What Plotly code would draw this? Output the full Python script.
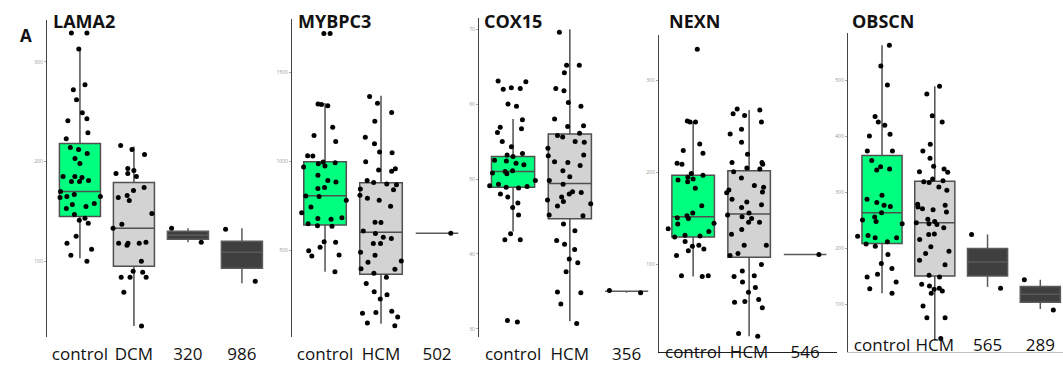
import plotly.graph_objects as go

W, H = 1063, 370

# ---------------- DATA ----------------
# LAMA2
lama2_groups = ["control", "DCM", "320", "986"]
lama2_q1 = [145, 95, 122, 93]
lama2_med = [170, 133, 126, 109]
lama2_q3 = [218, 179, 130, 120]
lama2_lo = [103, 35, 119, 78]
lama2_hi = [311, 215, 133, 133]
lama2_pts_control = [329, 329, 313, 277, 272, 262, 249, 241, 243, 229, 223, 214, 212, 208, 203, 198,
                     185, 185, 184, 181, 180, 180, 170, 167, 165, 165, 164, 158, 157, 155, 153, 147,
                     143, 141, 138, 125, 118, 112, 106, 100]
lama2_pts_dcm = [216, 212, 207, 193, 188, 191, 188, 185, 174, 171, 166, 164, 161, 148, 137, 133,
                 119, 118, 116, 118, 118, 100, 90, 89, 84, 84, 84, 69, 35]
lama2_pts_320 = [119, 133]
lama2_pts_986 = [132, 80]

# MYBPC3
mybpc3_groups = ["control", "HCM", "502"]
mybpc3_q1 = [644, 367, 598]
mybpc3_med = [809, 603, 598]
mybpc3_q3 = [1000, 882, 598]
mybpc3_lo = [382, 90, 598]
mybpc3_hi = [1330, 1371, 598]
mybpc3_pts_control = [1720, 1720, 1325, 1314, 1321, 1194, 1147, 1114, 1034, 1032, 998, 994, 989, 976,
                      970, 924, 894, 886, 855, 849, 808, 804, 784, 746, 713, 685, 681, 677, 651, 640,
                      638, 550, 547, 520, 500, 476, 470, 382]
mybpc3_pts_hcm = [1366, 1329, 1276, 1228, 1138, 1101, 1054, 1050, 1000, 961, 954, 946, 894, 883, 875,
                  870, 847, 842, 812, 795, 784, 750, 660, 659, 610, 597, 575, 569, 541, 541, 491, 474,
                  442, 435, 399, 396, 373, 351, 315, 269, 252, 228, 159, 153, 149, 127, 93, 78]
mybpc3_pts_502 = [598]

# COX15
cox15_groups = ["control", "HCM", "356"]
cox15_q1 = [48.9, 44.7, 35.0]
cox15_med = [51.0, 49.4, 35.0]
cox15_q3 = [53.0, 56.0, 35.0]
cox15_lo = [43.0, 31.0, 34.8]
cox15_hi = [58.0, 70.0, 35.1]
cox15_pts_control = [63.0, 62.0, 62.2, 62.1, 63.1, 60.0, 59.7, 57.9, 56.9, 56.7, 56.2, 55.0, 54.3,
                     53.4, 53.2, 53.0, 52.5, 52.4, 52.1, 51.9, 51.1, 51.0, 50.8, 50.7, 49.8, 49.3,
                     49.1, 48.9, 49.0, 48.8, 48.0, 47.6, 46.8, 46.2, 45.2, 42.7, 41.9, 41.9, 31.1, 30.9]
cox15_pts_hcm = [69.6, 65.2, 65.2, 64.2, 62.1, 61.8, 60.2, 59.7, 58.0, 57.0, 57.1, 56.1, 55.8, 55.6,
                 55.0, 54.9, 54.1, 53.2, 53.1, 52.3, 52.2, 51.8, 51.1, 50.3, 49.8, 49.3, 48.3, 48.2,
                 48.0, 47.6, 47.2, 47.0, 46.7, 46.4, 45.2, 45.1, 44.0, 43.1, 41.8, 41.3, 40.6, 39.3,
                 38.8, 37.6, 34.9, 34.8, 33.3, 30.7]
cox15_pts_356 = [34.8, 35.1]

# NEXN
nexn_groups = ["control", "HCM", "546"]
nexn_q1 = [130, 108, 111]
nexn_med = [152, 155, 111]
nexn_q3 = [197, 202, 111]
nexn_lo = [87, 22, 111]
nexn_hi = [255, 268, 111]
nexn_pts_control = [334, 256, 255, 255, 231, 224, 221, 209, 210, 199, 197, 195, 193, 192, 190, 183,
                    164, 156, 153, 151, 150, 145, 144, 139, 136, 132, 131, 130, 125, 120, 121, 117,
                    115, 110, 88, 88, 87]
nexn_pts_hcm = [268, 269, 264, 262, 255, 247, 242, 233, 220, 211, 211, 209, 205, 201, 204, 194, 186,
                184, 181, 179, 178, 171, 168, 165, 162, 156, 154, 152, 150, 146, 146, 138, 133, 121,
                121, 112, 110, 100, 93, 88, 87, 81, 75, 70, 62, 60, 59, 53, 25, 22]
nexn_pts_546 = [111]

# OBSCN
obscn_groups = ["control", "HCM", "565", "289"]
obscn_q1 = [209, 151, 151, 104]
obscn_med = [264, 246, 176, 118]
obscn_q3 = [366, 320, 200, 132]
obscn_lo = [120, 35, 131, 92]
obscn_hi = [563, 490, 225, 144]
obscn_pts_control = [563, 526, 492, 436, 426, 420, 404, 401, 374, 374, 357, 346, 342, 340, 295, 288,
                     282, 277, 275, 264, 256, 251, 248, 244, 223, 222, 219, 219, 212, 208, 204, 189,
                     173, 164, 154, 149, 140, 128, 120]
obscn_pts_hcm = [490, 476, 437, 426, 386, 374, 361, 347, 342, 337, 336, 324, 321, 319, 318, 310, 304,
                 279, 277, 274, 271, 269, 265, 252, 248, 246, 244, 243, 237, 226, 225, 216, 203, 195,
                 191, 179, 171, 152, 149, 136, 133, 129, 127, 124, 120, 97, 76, 76, 39]
obscn_pts_565 = [225, 129]
obscn_pts_289 = [90, 144]

titles = ["LAMA2", "MYBPC3", "COX15", "NEXN", "OBSCN"]

# ---------------- LAYOUT (pixels) ----------------
FILLS = ["#00FF7F", "#D3D3D3", "#3F3F3F", "#3F3F3F"]
panels = [
    dict(groups=lama2_groups, q1=lama2_q1, med=lama2_med, q3=lama2_q3, lo=lama2_lo, hi=lama2_hi,
         pts=[lama2_pts_control, lama2_pts_dcm, lama2_pts_320, lama2_pts_986],
         xpx=(47, 270), ypx=(20, 337), xr=(-0.61, 3.52), yr=(24, 342), tv=[100, 200, 300],
         standoff=5, title_px=(51, 21.5)),
    dict(groups=mybpc3_groups, q1=mybpc3_q1, med=mybpc3_med, q3=mybpc3_q3, lo=mybpc3_lo, hi=mybpc3_hi,
         pts=[mybpc3_pts_control, mybpc3_pts_hcm, mybpc3_pts_502],
         xpx=(292, 465), ypx=(19, 337), xr=(-0.59, 2.5), yr=(15, 1802), tv=[500, 1000, 1500],
         standoff=5, title_px=(296, 21.5)),
    dict(groups=cox15_groups, q1=cox15_q1, med=cox15_med, q3=cox15_q3, lo=cox15_lo, hi=cox15_hi,
         pts=[cox15_pts_control, cox15_pts_hcm, cox15_pts_356],
         xpx=(479, 655), ypx=(18, 337), xr=(-0.6, 2.5), yr=(28.9, 71.5), tv=[30, 40, 50, 60, 70],
         standoff=5, title_px=(482, 21.5)),
    dict(groups=nexn_groups, q1=nexn_q1, med=nexn_med, q3=nexn_q3, lo=nexn_lo, hi=nexn_hi,
         pts=[nexn_pts_control, nexn_pts_hcm, nexn_pts_546],
         xpx=(659, 837), ypx=(35, 352), xr=(-0.61, 2.57), yr=(5, 349.5), tv=[100, 200, 300],
         standoff=-15, title_px=(667, 21.5), xline="#222"),
    dict(groups=obscn_groups, q1=obscn_q1, med=obscn_med, q3=obscn_q3, lo=obscn_lo, hi=obscn_hi,
         pts=[obscn_pts_control, obscn_pts_hcm, obscn_pts_565, obscn_pts_289],
         xpx=(848, 1063), ypx=(33, 352), xr=(-0.645, 3.43), yr=(15, 585), tv=[100, 200, 300, 400, 500],
         standoff=-22, title_px=(850, 21.5), xline="#C0C0C0"),
]

fig = go.Figure()
layout = dict(width=W, height=H, margin=dict(l=0, r=0, t=0, b=0),
              paper_bgcolor="white", plot_bgcolor="white", showlegend=False,
              template="none", annotations=[])

for i, p in enumerate(panels, start=1):
    xa = "x" if i == 1 else f"x{i}"
    ya = "y" if i == 1 else f"y{i}"
    # boxes
    for j, g in enumerate(p["groups"]):
        fig.add_trace(go.Box(
            x=[g], q1=[p["q1"][j]], median=[p["med"][j]], q3=[p["q3"][j]],
            lowerfence=[p["lo"][j]], upperfence=[p["hi"][j]],
            fillcolor=FILLS[j], line=dict(color="#505050" if j < 2 else "#5a5a5a", width=1.5),
            whiskerwidth=0, width=0.76, boxpoints=False, xaxis=xa, yaxis=ya, hoverinfo="skip"))
    # jittered points
    for j, g in enumerate(p["groups"]):
        vals = p["pts"][j]
        fig.add_trace(go.Box(
            x=[g] * len(vals), y=vals, boxpoints="all", jitter=1, pointpos=0,
            fillcolor="rgba(0,0,0,0)", line=dict(color="rgba(0,0,0,0)", width=0),
            whiskerwidth=0, marker=dict(color="black", size=5), width=0.95,
            xaxis=xa, yaxis=ya))
    x0, x1 = p["xpx"]
    y0, y1 = p["ypx"]
    layout[f"xaxis{'' if i == 1 else i}"] = dict(
        domain=[x0 / W, x1 / W], anchor=ya, type="category",
        categoryorder="array", categoryarray=p["groups"], range=list(p["xr"]),
        showgrid=False, zeroline=False, ticks="",
        showline=bool(p.get("xline")), linecolor=p.get("xline", "#000"), linewidth=1,
        tickfont=dict(family="Open Sans", size=17, color="#111"),
        ticklabelstandoff=p["standoff"])
    layout[f"yaxis{'' if i == 1 else i}"] = dict(
        domain=[1 - y1 / H, 1 - y0 / H], anchor=xa, range=list(p["yr"]),
        showgrid=False, zeroline=False, showline=True, linecolor="#444", linewidth=1.3,
        ticks="outside", ticklen=2, tickcolor="#aaa", tickvals=p["tv"],
        tickfont=dict(family="Open Sans", size=5, color="#999"))
    tx, ty = p["title_px"]
    layout["annotations"].append(dict(
        text=f"<b>{titles[i - 1]}</b>", x=tx / W, y=1 - ty / H, xref="paper", yref="paper",
        xanchor="left", yanchor="middle", showarrow=False,
        font=dict(family="Open Sans", size=18, color="#111")))

layout["annotations"].append(dict(
    text="<b>A</b>", x=18 / W, y=1 - 35 / H, xref="paper", yref="paper",
    xanchor="left", yanchor="middle", showarrow=False,
    font=dict(family="Open Sans", size=17, color="#111")))

fig.update_layout(**layout)
fig.write_html("out.html", config={"displayModeBar": False},
               post_script="document.body.style.margin='0px';")
